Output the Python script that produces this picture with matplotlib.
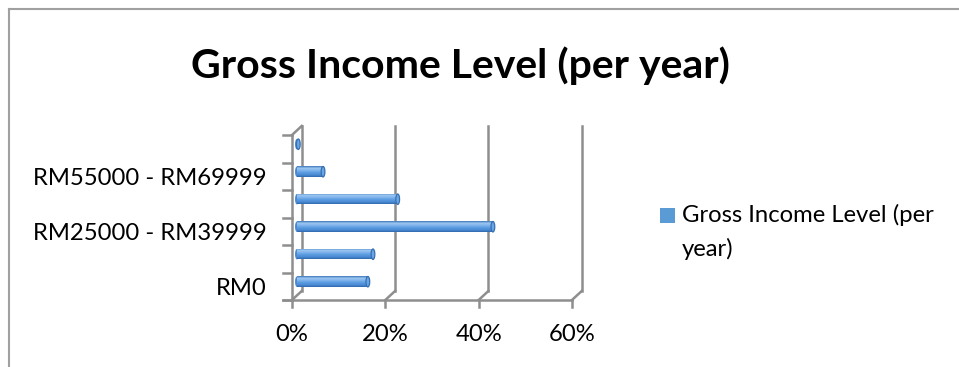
import matplotlib.pyplot as plt
import numpy as np
from matplotlib.patches import Ellipse, Rectangle
from matplotlib.lines import Line2D
from matplotlib.colors import LinearSegmentedColormap

# share of respondents per income band, in percent
categories = ["RM0", "RM1 - RM24999", "RM25000 - RM39999",
              "RM40000 - RM54999", "RM55000 - RM69999", "RM70000 and above"]
shares = [15.2, 16.3, 42.0, 21.6, 5.6, 0.3]
x_ticks = [0, 20, 40, 60]
series_name = "Gross Income Level (per year)"

plt.rcParams['font.family'] = ['Lato', 'DejaVu Sans']

W, H = 959, 367
fig = plt.figure(figsize=(W / 100, H / 100), dpi=100)
ax = fig.add_axes([292 / W, (H - 300) / H, 280 / W, 165 / H])
ax.axis('off')

grey = '#8e8e8e'
blue = '#5b9bd5'
dx, dy = 2.1, 0.33          # depth of the 3d box in data units
lw = 1.8
fs = 17.2

# back wall gridlines + floor diagonals
for t in x_ticks:
    ax.plot([t + dx, t + dx], [dy, 6 + dy], color=grey, lw=lw, clip_on=False, zorder=1)
    ax.plot([t, t + dx], [0, dy], color=grey, lw=lw, clip_on=False, zorder=1)
    ax.plot([t, t], [0, -0.25], color=grey, lw=lw, clip_on=False, zorder=1)
    ax.text(t, -1.24, f"{t}%", ha='center', va='center', fontsize=fs)

# floor front edge
ax.plot([-1.9, 60], [0, 0], color=grey, lw=lw, clip_on=False, zorder=1)

# left wall
ax.plot([0, 0], [0, 6], color=grey, lw=lw, clip_on=False, zorder=1)
ax.plot([0, dx], [6, 6 + dy], color=grey, lw=lw, clip_on=False, zorder=1)
for k in range(len(categories) + 1):
    ax.plot([-1.9, 0], [k, k], color=grey, lw=lw, clip_on=False, zorder=1)

# category labels, every other one
for i, name in enumerate(categories):
    if i % 2 == 0:
        ax.text(-5.4, i + 0.42, name, ha='right', va='center', fontsize=fs)

# cylinder bars
bar_h = 0.38
y_pos = np.arange(len(categories)) + 0.5 + dy / 2
left = dx / 2
bars = ax.barh(y_pos, shares, height=bar_h, left=left, color=blue,
               edgecolor='none', zorder=3)

shade = LinearSegmentedColormap.from_list(
    'cyl', ['#3f78bb', '#9ec7f2', '#7eb3ec', '#5a9be0', '#4b8cd6', '#2f69ad'])
grad = np.linspace(0, 1, 64).reshape(-1, 1)
for b, v in zip(bars, shares):
    x0, y0 = b.get_x(), b.get_y()
    img = ax.imshow(grad, cmap=shade, aspect='auto', origin='upper',
                    extent=[x0, x0 + v, y0, y0 + bar_h], zorder=4)
    img.set_clip_path(b)
    cap = Ellipse((x0 + v, y0 + bar_h / 2), width=0.8, height=bar_h,
                  facecolor='#6aa6e4', edgecolor='#3670b3', lw=0.9, zorder=5)
    ax.add_patch(cap)
    start = Ellipse((x0, y0 + bar_h / 2), width=0.8, height=bar_h,
                    facecolor='#4a88cf', edgecolor='none', zorder=2)
    ax.add_patch(start)

ax.set_xlim(0, 60)
ax.set_ylim(0, 6)

# title
fig.text(460 / W, 1 - 66 / H, series_name, ha='center', va='center',
         fontsize=29.5, fontweight='bold')

# legend, built by hand so the key sits beside the first line
fig.add_artist(Rectangle((660 / W, 1 - 223 / H), 15 / W, 15 / H,
                         facecolor=blue, edgecolor='none',
                         transform=fig.transFigure))
fig.text(682 / W, 1 - 215 / H, "Gross Income Level (per", ha='left',
         va='center', fontsize=fs)
fig.text(682 / W, 1 - 249 / H, "year)", ha='left', va='center', fontsize=fs)

# outer chart frame
fig.add_artist(Line2D([9 / W, 1], [1 - 8.5 / H, 1 - 8.5 / H], color='#a0a0a0', lw=1.5))
fig.add_artist(Line2D([9 / W, 9 / W], [0, 1 - 8.5 / H], color='#a0a0a0', lw=1.5))

fig.savefig('out.png', dpi=100)
